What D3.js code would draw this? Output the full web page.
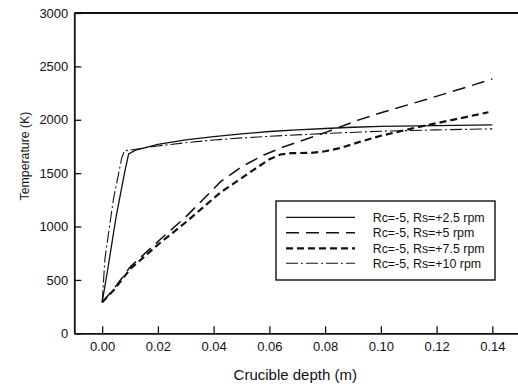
<!DOCTYPE html>
<html>
<head>
<meta charset="utf-8">
<script src="https://cdn.jsdelivr.net/npm/d3@7"></script>
<style>
  html, body { margin: 0; padding: 0; background: #fff; }
  svg { display: block; font-family: "Liberation Sans", Arial, sans-serif; }
</style>
</head>
<body>
<svg id="chart" width="518" height="387"></svg>
<script>
// ---- data ----
const xTicks = [0.00, 0.02, 0.04, 0.06, 0.08, 0.10, 0.12, 0.14];
const yTicks = [0, 500, 1000, 1500, 2000, 2500, 3000];
const seriesNames = ["Rc=-5, Rs=+2.5 rpm", "Rc=-5, Rs=+5 rpm", "Rc=-5, Rs=+7.5 rpm", "Rc=-5, Rs=+10 rpm"];

const depthRs25 = [0, 0.002, 0.005, 0.008, 0.0095, 0.012, 0.02, 0.03, 0.04, 0.05, 0.06, 0.07, 0.08, 0.09, 0.10, 0.12, 0.14];
const tempRs25  = [290, 600, 1090, 1500, 1680, 1715, 1770, 1812, 1842, 1868, 1890, 1905, 1918, 1930, 1938, 1946, 1952];

const depthRs5 = [0, 0.004, 0.01, 0.02, 0.03, 0.0425, 0.05, 0.058, 0.065, 0.0723, 0.08, 0.0927, 0.10, 0.1165, 0.13, 0.14];
const tempRs5  = [290, 410, 620, 860, 1090, 1420, 1560, 1670, 1745, 1810, 1880, 2004, 2065, 2192, 2300, 2382];

const depthRs75 = [0, 0.004, 0.01, 0.02, 0.03, 0.0425, 0.0543, 0.06, 0.064, 0.068, 0.075, 0.08, 0.0854, 0.0927, 0.10, 0.114, 0.1386];
const tempRs75  = [290, 400, 600, 830, 1040, 1320, 1530, 1630, 1675, 1688, 1690, 1705, 1735, 1795, 1850, 1935, 2070];

const depthRs10 = [0, 0.001, 0.004, 0.007, 0.008, 0.01, 0.02, 0.03, 0.04, 0.05, 0.06, 0.08, 0.10, 0.12, 0.14];
const tempRs10  = [290, 700, 1250, 1640, 1710, 1715, 1755, 1785, 1810, 1830, 1845, 1872, 1893, 1905, 1915];

// ---- layout ----
const svg = d3.select("#chart");
const x = d3.scaleLinear().domain([-0.01, 0.15]).range([74.3, 520.2]);
const y = d3.scaleLinear().domain([0, 3000]).range([333.3, 13]);

const series = [
  { name: seriesNames[0], xs: depthRs25, ys: tempRs25, dash: null, w: 1.3 },
  { name: seriesNames[1], xs: depthRs5,  ys: tempRs5,  dash: "13,7", w: 1.5 },
  { name: seriesNames[2], xs: depthRs75, ys: tempRs75, dash: "7,4", w: 2.2 },
  { name: seriesNames[3], xs: depthRs10, ys: tempRs10, dash: "12,3,2,3", w: 1.1 }
];

// top border
svg.append("line")
  .attr("x1", x(-0.01)).attr("x2", x(0.15))
  .attr("y1", y(3000)).attr("y2", y(3000))
  .attr("stroke", "#111").attr("stroke-width", 1.8);

// axes
const xAxis = d3.axisBottom(x).tickValues(xTicks).tickFormat(d3.format(".2f"))
  .tickSizeInner(-7).tickSizeOuter(0).tickPadding(8);
const gx = svg.append("g").attr("transform", `translate(0,${y(0)})`).call(xAxis);

const yAxis = d3.axisLeft(y).tickValues(yTicks).tickFormat(d3.format("d"))
  .tickSizeInner(-7).tickSizeOuter(0).tickPadding(6);
const gy = svg.append("g").attr("transform", `translate(${x(-0.01)},0)`).call(yAxis);

[gx, gy].forEach(g => {
  g.select(".domain").attr("stroke", "#111").attr("stroke-width", 1.8);
  g.selectAll(".tick line").attr("stroke", "#111").attr("stroke-width", 1.3);
  g.selectAll(".tick text").attr("fill", "#111").style("font-size", "13px")
    .style("font-family", "'Liberation Sans', Arial, sans-serif");
});

// axis titles
svg.append("text")
  .attr("x", 295.3).attr("y", 380)
  .attr("text-anchor", "middle")
  .attr("fill", "#111").style("font-size", "15px")
  .text("Crucible depth (m)");

svg.append("text")
  .attr("transform", "translate(29,156) rotate(-90)")
  .attr("text-anchor", "middle")
  .attr("fill", "#111").style("font-size", "12.3px")
  .text("Temperature (K)");

// lines
const line = d3.line().x(d => x(d[0])).y(d => y(d[1]));
series.forEach(s => {
  const pts = s.xs.map((v, i) => [v, s.ys[i]]);
  svg.append("path")
    .datum(pts)
    .attr("d", line)
    .attr("fill", "none")
    .attr("stroke", "#111")
    .attr("stroke-width", s.w)
    .attr("stroke-dasharray", s.dash);
});

// legend
const lg = svg.append("g");
lg.append("rect")
  .attr("x", 276).attr("y", 201).attr("width", 219).attr("height", 79)
  .attr("fill", "#fff").attr("stroke", "#111").attr("stroke-width", 1.4);
const rowY = [217.3, 232.7, 248.3, 263.3];
series.forEach((s, i) => {
  lg.append("line")
    .attr("x1", 286).attr("x2", 355)
    .attr("y1", rowY[i]).attr("y2", rowY[i])
    .attr("stroke", "#111").attr("stroke-width", s.w)
    .attr("stroke-dasharray", s.dash);
  lg.append("text")
    .attr("x", 372.7).attr("y", rowY[i] + 4.5)
    .attr("fill", "#111").style("font-size", "12.4px")
    .text(s.name);
});
</script>
</body>
</html>
